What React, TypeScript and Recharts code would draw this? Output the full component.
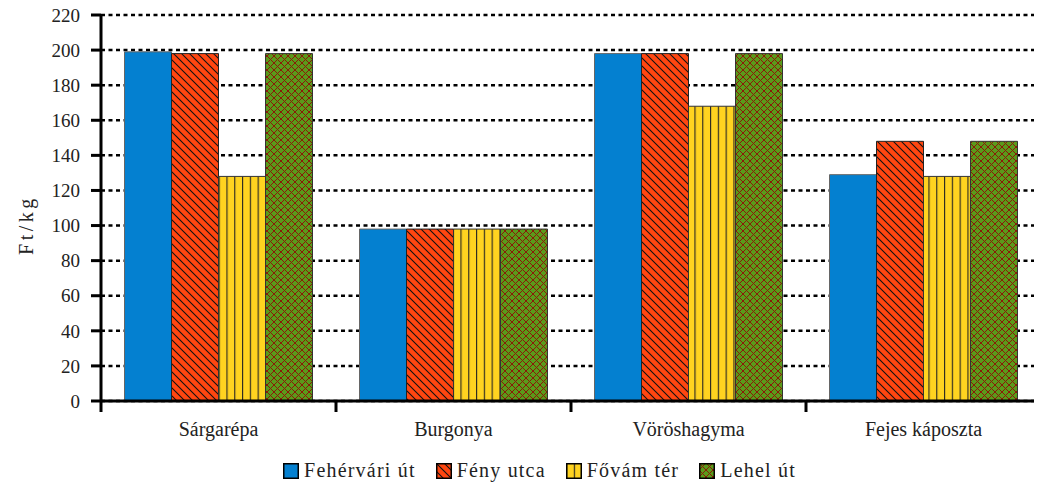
import React from "react";
import { BarChart, Bar, XAxis, YAxis, CartesianGrid, Legend } from "recharts";

const categories = ["Sárgarépa", "Burgonya", "Vöröshagyma", "Fejes káposzta"];
const seriesNames = ["Fehérvári út", "Fény utca", "Fővám tér", "Lehel út"];
const feherváriUt = [199, 98, 198, 129];
const fenyUtca = [198, 98, 198, 148];
const fovamTer = [128, 98, 168, 128];
const lehelUt = [198, 98, 198, 148];
const yTicks = [0, 20, 40, 60, 80, 100, 120, 140, 160, 180, 200, 220];

const keys = ["s0", "s1", "s2", "s3"];
const fills = ["#0480D0", "url(#pRed)", "url(#pYellow)", "url(#pGreen)"];
const strokes = ["#666", "#222", "#333", "#333"];

const data = categories.map((c, i) => ({
  name: c,
  s0: feherváriUt[i],
  s1: fenyUtca[i],
  s2: fovamTer[i],
  s3: lehelUt[i],
}));

const FONT = `"Liberation Serif", "Times New Roman", serif`;
const TXT = "#222";

const Defs = () => (
  <svg width="0" height="0" style={{ position: "absolute" }}>
    <defs>
      <pattern id="pRed" patternUnits="userSpaceOnUse" width="8" height="8">
        <rect width="8" height="8" fill="#FF4610" />
        <path d="M0,0 L8,8 M-2,6 L2,10 M6,-2 L10,2" stroke="#111" strokeWidth="1.1" />
      </pattern>
      <pattern id="pYellow" patternUnits="userSpaceOnUse" width="7.8" height="8">
        <rect width="7.8" height="8" fill="#FFD320" />
        <path d="M0.6,0 L0.6,8" stroke="#222" strokeWidth="1.1" />
      </pattern>
      <pattern id="pGreen" patternUnits="userSpaceOnUse" width="7" height="7">
        <rect width="7" height="7" fill="#5A9A1A" />
        <path d="M0,0 L7,7 M7,0 L0,7" stroke="#8A1A08" strokeWidth="1" />
      </pattern>
    </defs>
  </svg>
);

const XTick = (props: any) => {
  const { x, y, payload, index, visibleTicksCount } = props;
  const off = payload.offset || 0;
  return (
    <g>
      <line x1={x - off} y1={y - 21} x2={x - off} y2={y - 10} stroke="#000" strokeWidth={3} />
      {index === (visibleTicksCount ?? categories.length) - 1 && (
        <line x1={x + off} y1={y - 21} x2={x + off} y2={y - 10} stroke="#000" strokeWidth={3} />
      )}
      <text x={x} y={y} dy="0.71em" textAnchor="middle" fill={TXT} fontSize={20} fontFamily={FONT}>
        {payload.value}
      </text>
    </g>
  );
};

const YLabel = (props: any) => {
  const vb = props.viewBox || {};
  const cx = vb.x + 18;
  const cy = vb.y + vb.height / 2 + 17;
  return (
    <text
      x={cx}
      y={cy}
      transform={`rotate(-90 ${cx} ${cy})`}
      textAnchor="middle"
      dominantBaseline="central"
      fill={TXT}
      fontSize={20}
      fontFamily={FONT}
      letterSpacing={3.5}
    >
      Ft/kg
    </text>
  );
};

const LegendContent = () => (
  <div
    style={{
      display: "flex",
      justifyContent: "center",
      paddingLeft: 30,
      paddingTop: 8,
      fontFamily: FONT,
      fontSize: 20,
      color: TXT,
      gap: 20,
    }}
  >
    {seriesNames.map((n, i) => (
      <div key={n} style={{ display: "flex", alignItems: "center", gap: 5 }}>
        <svg width="16" height="16">
          <rect x="0.75" y="0.75" width="14.5" height="14.5" fill={fills[i]} stroke="#000" strokeWidth="1.5" />
        </svg>
        <span style={{ letterSpacing: 1.2 }}>{n}</span>
      </div>
    ))}
  </div>
);

export default function App() {
  return (
    <div style={{ position: "relative", width: 1034, height: 486, marginTop: -8, fontFamily: FONT }}>
      <Defs />
      <BarChart
        width={1034}
        height={486}
        data={data}
        margin={{ top: 15, right: 1, bottom: 0, left: 0 }}
        barCategoryGap="10%"
        barGap={0}
      >
        <CartesianGrid horizontal vertical={false} stroke="#000" strokeWidth={2.5} strokeDasharray="4 3.5" />
        <XAxis
          dataKey="name"
          axisLine={{ stroke: "#000", strokeWidth: 3 }}
          tickLine={false}
          tick={<XTick />}
          tickSize={6}
          tickMargin={15}
          height={50}
          interval={0}
        />
        <YAxis
          domain={[0, 220]}
          ticks={yTicks}
          interval={0}
          width={93}
          axisLine={{ stroke: "#000", strokeWidth: 3 }}
          tickLine={{ stroke: "#000", strokeWidth: 3 }}
          tickSize={10}
          tickMargin={11}
          tick={{ fill: TXT, fontSize: 19, fontFamily: FONT }}
          label={<YLabel />}
        />
        <Legend verticalAlign="bottom" height={35} content={<LegendContent />} />
        {keys.map((k, i) => (
          <Bar
            key={k}
            dataKey={k}
            name={seriesNames[i]}
            fill={fills[i]}
            stroke={strokes[i]}
            strokeWidth={1}
            isAnimationActive={false}
          />
        ))}
      </BarChart>
    </div>
  );
}
